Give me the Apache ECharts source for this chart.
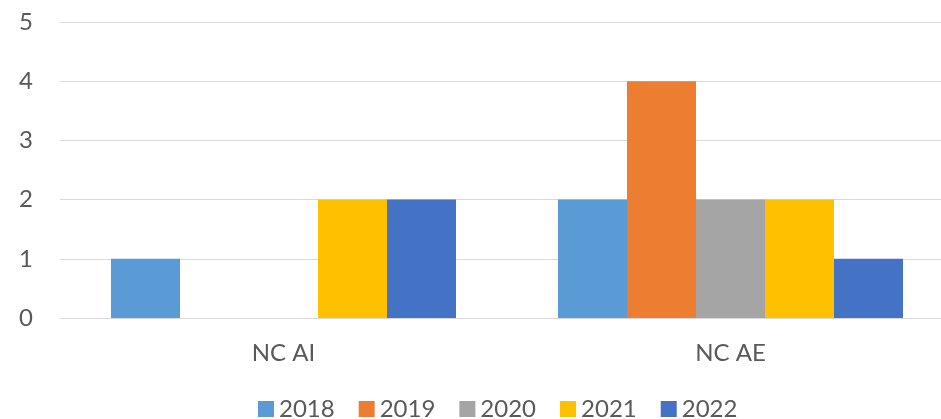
<!DOCTYPE html>
<html>
<head>
<meta charset="utf-8">
<script src="https://cdn.jsdelivr.net/npm/echarts@6/dist/echarts.min.js"></script>
<style>
  html, body { margin: 0; padding: 0; background: #fff; overflow: hidden; }
  #chart { width: 954px; height: 419px; }
</style>
</head>
<body>
<div id="chart"></div>
<script>
const categories = ['NC AI', 'NC AE']
const years = ['2018', '2019', '2020', '2021', '2022']
const values2018 = [1, 2]
const values2019 = [0, 4]
const values2020 = [0, 2]
const values2021 = [2, 2]
const values2022 = [2, 1]
const colors = ['#5B9BD5', '#ED7D31', '#A5A5A5', '#FFC000', '#4472C4']

const seriesData = [values2018, values2019, values2020, values2021, values2022]
const textColor = '#595959'
const font = 'Lato'

const chart = echarts.init(document.getElementById('chart'))
chart.setOption({
  animation: false,
  color: colors,
  grid: { left: 60, right: 0, top: 22, bottom: 101 },
  legend: {
    data: years,
    left: 253,
    top: 392,
    itemWidth: 16,
    itemHeight: 16,
    itemGap: 24,
    icon: 'rect',
    textStyle: { color: textColor, fontSize: 24, fontFamily: font }
  },
  xAxis: {
    type: 'category',
    data: categories,
    axisLine: { lineStyle: { color: '#d9d9d9', width: 1 } },
    axisTick: { show: false },
    axisLabel: { color: textColor, fontSize: 24, fontFamily: font, margin: 23 }
  },
  yAxis: {
    type: 'value',
    min: 0,
    max: 5,
    interval: 1,
    axisLine: { show: false },
    axisTick: { show: false },
    axisLabel: { color: textColor, fontSize: 24, fontFamily: font, margin: 27 },
    splitLine: { lineStyle: { color: '#d9d9d9', width: 1 } }
  },
  series: years.map((y, i) => ({
    name: y,
    type: 'bar',
    data: seriesData[i],
    barWidth: 69,
    barGap: '0%'
  }))
})
</script>
</body>
</html>
